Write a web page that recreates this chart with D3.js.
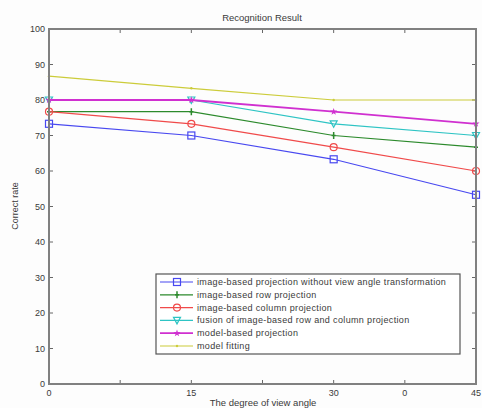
<!DOCTYPE html>
<meta charset="utf-8">
<style>
body { margin:0; background:#fdfdfd; }
text { font-family: "Liberation Sans", Arial, sans-serif; fill:#3a3a3a; }
</style>
<svg width="482" height="408"></svg>
<script src="https://cdn.jsdelivr.net/npm/d3@7"></script>
<script>
// view angles (degrees)
var angles = [0, 15, 30, 45];
var xTickVals = [0, 7.5, 15, 22.5, 30, 37.5, 45];
var xTickLabels = ["0", "", "15", "", "30", "0", "45"];
var yTickVals = [0, 10, 20, 30, 40, 50, 60, 70, 80, 90, 100];

var names = [
  "image-based projection without view angle transformation",
  "image-based row projection",
  "image-based column projection",
  "fusion of image-based row and column projection",
  "model-based projection",
  "model fitting"
];
var noTransform = [73.3, 70, 63.3, 53.3];
var rowProj = [76.7, 76.7, 70, 66.7];
var colProj = [76.7, 73.3, 66.7, 60];
var fusion = [80, 80, 73.3, 70];
var modelProj = [80, 80, 76.7, 73.3];
var modelFit = [86.7, 83.3, 80, 80];

var colors = ["#4848f0", "#2c8a2c", "#f04a4a", "#2ec4c4", "#d030d0", "#cccc3a"];
var markers = ["square", "plus", "circle", "tridown", "star", "dot"];
var widths = [1.2, 1.2, 1.2, 1.2, 1.8, 1.2];
var series = [noTransform, rowProj, colProj, fusion, modelProj, modelFit];

var svg = d3.select("svg");
var m = {l:49, r:476, t:29, b:384};
var x = d3.scaleLinear().domain([0,45]).range([m.l, m.r]);
var y = d3.scaleLinear().domain([0,100]).range([m.b, m.t]);

// ticks, MATLAB style (inward, all four sides)
var g = svg.append("g");
xTickVals.forEach(function(v){
  g.append("line").attr("x1",x(v)).attr("x2",x(v)).attr("y1",m.b).attr("y2",m.b-4).attr("stroke","#666");
  g.append("line").attr("x1",x(v)).attr("x2",x(v)).attr("y1",m.t).attr("y2",m.t+4).attr("stroke","#666");
});
yTickVals.forEach(function(v){
  g.append("line").attr("x1",m.l).attr("x2",m.l+4).attr("y1",y(v)).attr("y2",y(v)).attr("stroke","#666");
  g.append("line").attr("x1",m.r).attr("x2",m.r-4).attr("y1",y(v)).attr("y2",y(v)).attr("stroke","#666");
});
g.selectAll(".yl").data(yTickVals).enter().append("text")
  .attr("x", m.l-4).attr("y", function(d){return y(d)+3;})
  .attr("text-anchor","end").attr("font-size",9).text(function(d){return d;});
g.selectAll(".xl").data(xTickVals).enter().append("text")
  .attr("x", function(d){return x(d);}).attr("y", m.b+12)
  .attr("text-anchor","middle").attr("font-size",9).text(function(d,i){return xTickLabels[i];});

svg.append("text").attr("x",262).attr("y",21).attr("text-anchor","middle").attr("font-size",9.5).text("Recognition Result");
svg.append("text").attr("x",263).attr("y",406).attr("text-anchor","middle").attr("font-size",9.5).text("The degree of view angle");
svg.append("text").attr("transform","translate(18,206) rotate(-90)").attr("text-anchor","middle").attr("font-size",9).text("Correct rate");

function drawMarker(sel, type, color, cx, cy) {
  if (type === "square") sel.append("rect").attr("x",cx-3.5).attr("y",cy-3.5).attr("width",7).attr("height",7).attr("fill","none").attr("stroke",color).attr("stroke-width",1.2);
  else if (type === "circle") sel.append("circle").attr("cx",cx).attr("cy",cy).attr("r",3.5).attr("fill","none").attr("stroke",color).attr("stroke-width",1.2);
  else if (type === "plus") sel.append("path").attr("d","M"+cx+","+(cy-3.5)+"V"+(cy+3.5)+"M"+(cx-2)+","+cy+"H"+(cx+2)).attr("stroke",color).attr("stroke-width",1.5);
  else if (type === "tridown") sel.append("path").attr("d","M"+(cx-3.5)+","+(cy-3)+"L"+(cx+3.5)+","+(cy-3)+"L"+cx+","+(cy+3.5)+"Z").attr("fill","none").attr("stroke",color).attr("stroke-width",1.2);
  else if (type === "star") sel.append("path").attr("d", d3.symbol().type(d3.symbolStar).size(16)()).attr("transform","translate("+cx+","+cy+")").attr("fill",color);
  else sel.append("circle").attr("cx",cx).attr("cy",cy).attr("r",1.2).attr("fill",color);
}

var line = d3.line().x(function(d,i){return x(angles[i]);}).y(function(d){return y(d);});
series.forEach(function(s, k){
  var sg = svg.append("g");
  sg.append("path").datum(s).attr("d", line).attr("fill","none").attr("stroke",colors[k]).attr("stroke-width",widths[k]);
  s.forEach(function(v,i){ drawMarker(sg, markers[k], colors[k], x(angles[i]), y(v)); });
});

// axes box
svg.append("rect").attr("x",m.l).attr("y",m.t).attr("width",m.r-m.l).attr("height",m.b-m.t)
  .attr("fill","none").attr("stroke","#808080").attr("stroke-width",2);

// legend
var lg = svg.append("g");
lg.append("rect").attr("x",156).attr("y",274).attr("width",304).attr("height",80).attr("fill","#fff").attr("stroke","#555").attr("stroke-width",1.2);
names.forEach(function(n,k){
  var ly = 282 + k*12.8;
  lg.append("line").attr("x1",160).attr("x2",193).attr("y1",ly).attr("y2",ly).attr("stroke",colors[k]).attr("stroke-width",widths[k]);
  drawMarker(lg, markers[k], colors[k], 177, ly);
  lg.append("text").attr("x",197).attr("y",ly+3).attr("font-size",9).attr("textLength", null).style("letter-spacing","0.35px").text(n);
});
</script>
